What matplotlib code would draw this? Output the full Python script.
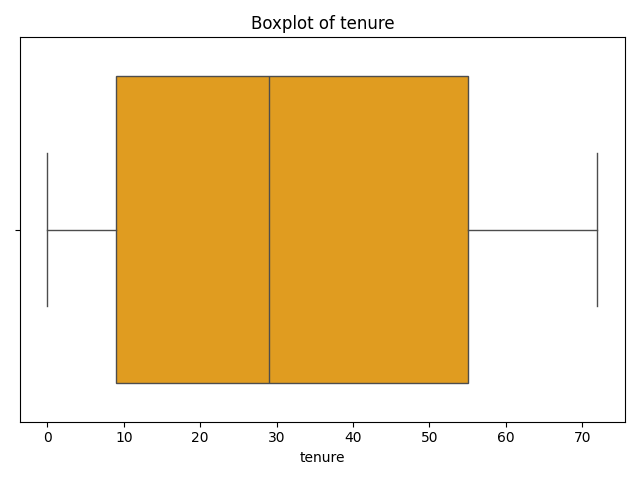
import matplotlib
matplotlib.use('Agg')
import matplotlib.pyplot as plt

# summary of tenure
tenure_min = 0
tenure_q1 = 9
tenure_median = 29
tenure_q3 = 55
tenure_max = 72

stats = [{'whislo': tenure_min, 'q1': tenure_q1, 'med': tenure_median,
          'q3': tenure_q3, 'whishi': tenure_max, 'fliers': []}]

fig, ax = plt.subplots(figsize=(6.4, 4.8), dpi=100)
line = dict(color='#4d4d4d', linewidth=1)
ax.bxp(stats, positions=[0], widths=0.8, vert=False, patch_artist=True,
       boxprops=dict(facecolor='#e09c20', edgecolor='#4d4d4d', linewidth=1),
       medianprops=line, whiskerprops=line, capprops=line, capwidths=0.4)
ax.set_ylim(0.5, -0.5)
ax.set_yticks([0])
ax.set_yticklabels([''])
ax.set_xlabel('tenure')
ax.set_title('Boxplot of tenure')
plt.tight_layout()
plt.savefig('out.png')
